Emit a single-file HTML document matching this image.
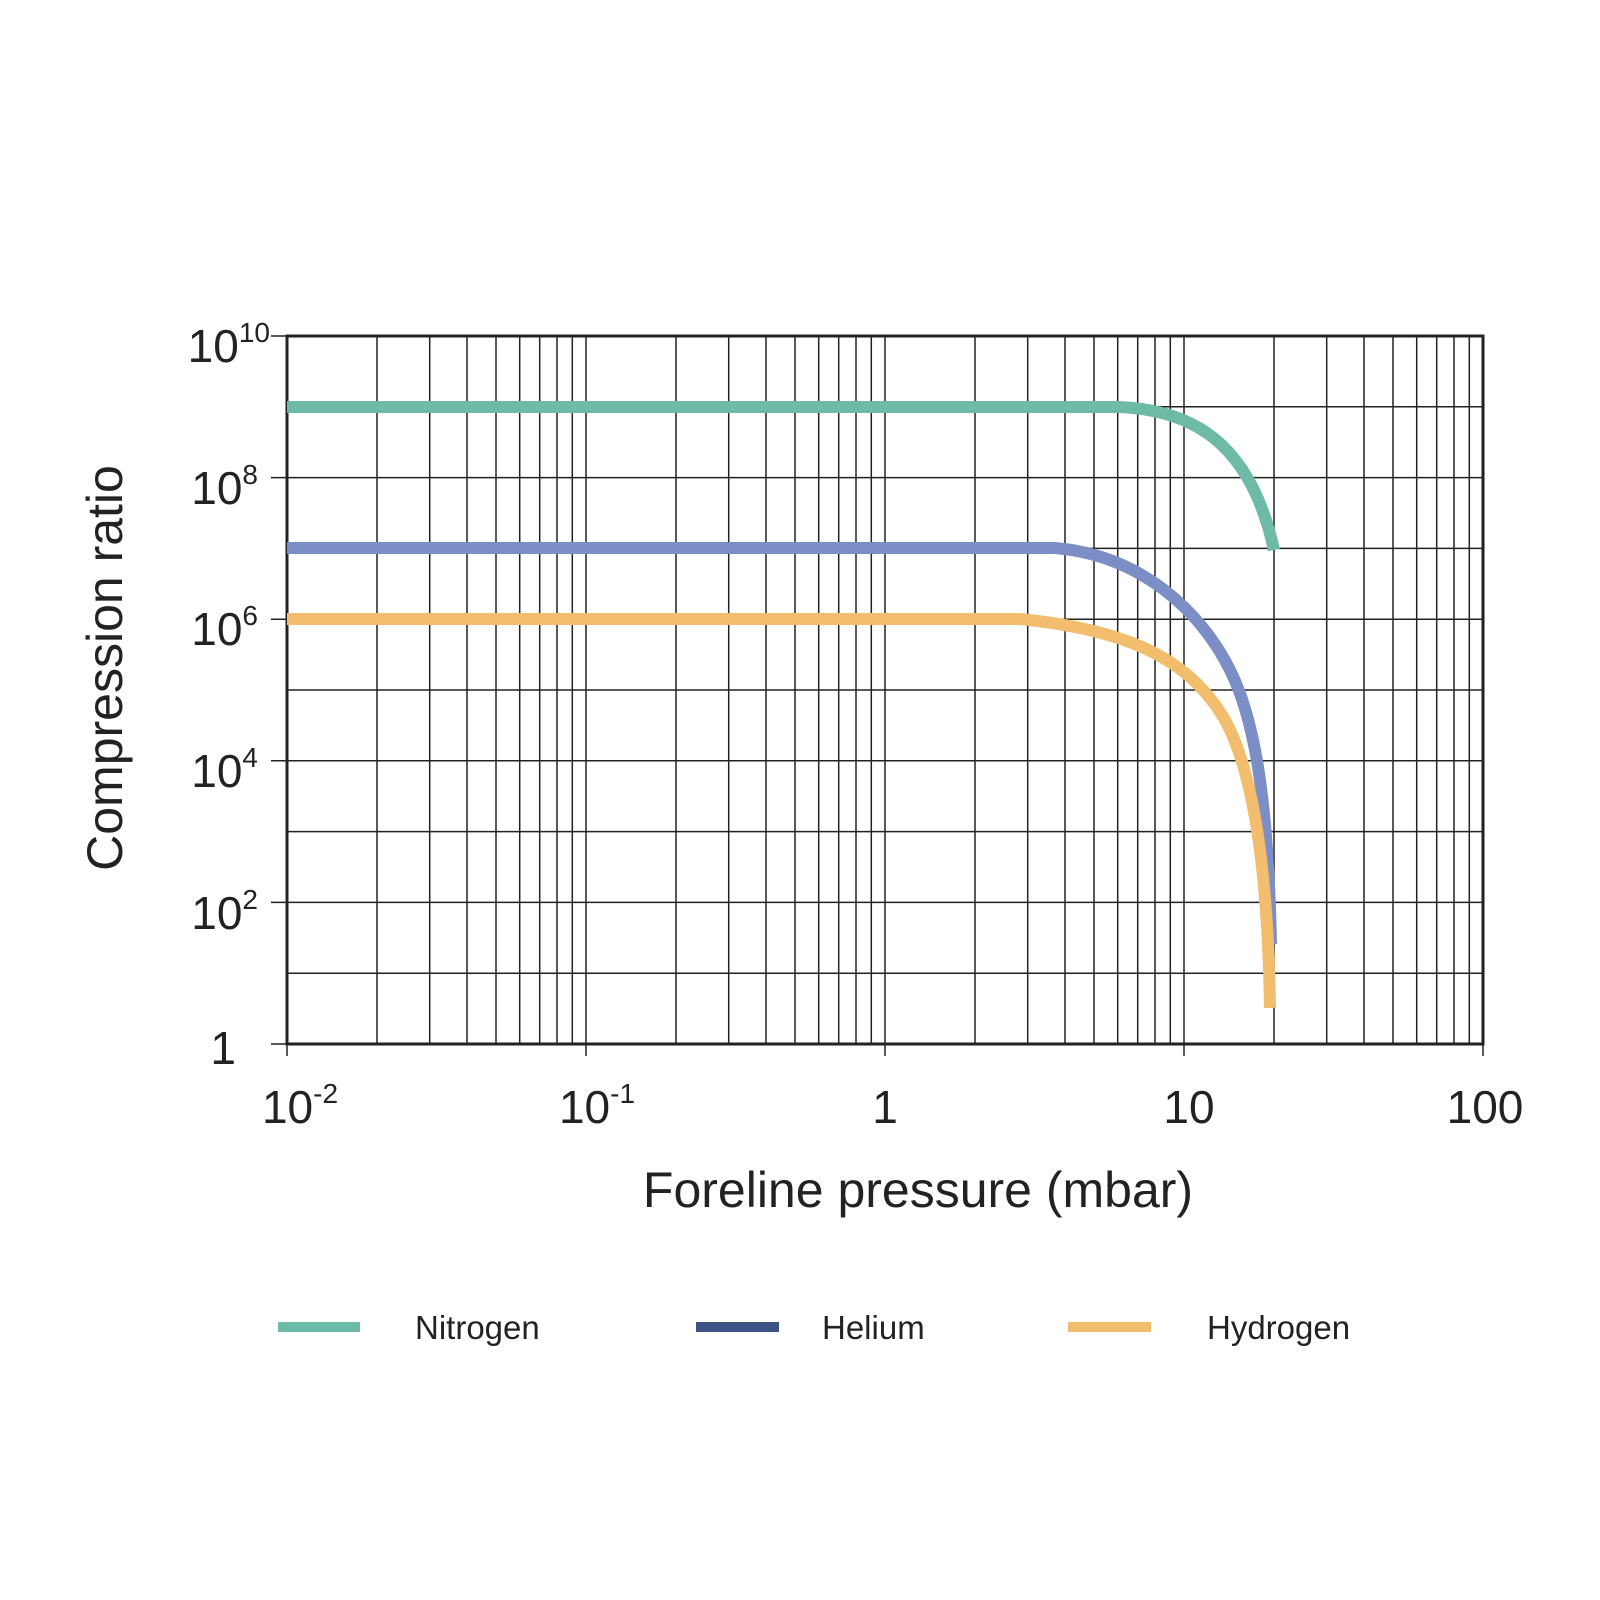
<!DOCTYPE html>
<html><head><meta charset="utf-8"><style>
html,body{margin:0;padding:0;background:#fff;}
svg{display:block;font-family:"Liberation Sans",sans-serif;}
</style></head><body>
<svg width="1600" height="1600" viewBox="0 0 1600 1600" xmlns="http://www.w3.org/2000/svg">
<rect width="1600" height="1600" fill="#fff"/>
<g stroke="#222" stroke-width="1.5">
<line x1="287" y1="336" x2="287" y2="1056"/>
<line x1="377" y1="336" x2="377" y2="1044"/><line x1="429.7" y1="336" x2="429.7" y2="1044"/><line x1="467" y1="336" x2="467" y2="1044"/><line x1="496" y1="336" x2="496" y2="1044"/><line x1="519.7" y1="336" x2="519.7" y2="1044"/><line x1="539.7" y1="336" x2="539.7" y2="1044"/><line x1="557" y1="336" x2="557" y2="1044"/><line x1="572.3" y1="336" x2="572.3" y2="1044"/>
<line x1="586" y1="336" x2="586" y2="1056"/>
<line x1="676" y1="336" x2="676" y2="1044"/><line x1="728.7" y1="336" x2="728.7" y2="1044"/><line x1="766" y1="336" x2="766" y2="1044"/><line x1="795" y1="336" x2="795" y2="1044"/><line x1="818.7" y1="336" x2="818.7" y2="1044"/><line x1="838.7" y1="336" x2="838.7" y2="1044"/><line x1="856" y1="336" x2="856" y2="1044"/><line x1="871.3" y1="336" x2="871.3" y2="1044"/>
<line x1="885" y1="336" x2="885" y2="1056"/>
<line x1="975" y1="336" x2="975" y2="1044"/><line x1="1027.7" y1="336" x2="1027.7" y2="1044"/><line x1="1065" y1="336" x2="1065" y2="1044"/><line x1="1094" y1="336" x2="1094" y2="1044"/><line x1="1117.7" y1="336" x2="1117.7" y2="1044"/><line x1="1137.7" y1="336" x2="1137.7" y2="1044"/><line x1="1155" y1="336" x2="1155" y2="1044"/><line x1="1170.3" y1="336" x2="1170.3" y2="1044"/>
<line x1="1184" y1="336" x2="1184" y2="1056"/>
<line x1="1274" y1="336" x2="1274" y2="1044"/><line x1="1326.7" y1="336" x2="1326.7" y2="1044"/><line x1="1364" y1="336" x2="1364" y2="1044"/><line x1="1393" y1="336" x2="1393" y2="1044"/><line x1="1416.7" y1="336" x2="1416.7" y2="1044"/><line x1="1436.7" y1="336" x2="1436.7" y2="1044"/><line x1="1454" y1="336" x2="1454" y2="1044"/><line x1="1469.3" y1="336" x2="1469.3" y2="1044"/>
<line x1="1483" y1="336" x2="1483" y2="1056"/>
<line x1="271" y1="1044" x2="1483" y2="1044"/>
<line x1="287" y1="973.2" x2="1483" y2="973.2"/>
<line x1="271" y1="902.4" x2="1483" y2="902.4"/>
<line x1="287" y1="831.6" x2="1483" y2="831.6"/>
<line x1="271" y1="760.8" x2="1483" y2="760.8"/>
<line x1="287" y1="690" x2="1483" y2="690"/>
<line x1="271" y1="619.2" x2="1483" y2="619.2"/>
<line x1="287" y1="548.4" x2="1483" y2="548.4"/>
<line x1="271" y1="477.6" x2="1483" y2="477.6"/>
<line x1="287" y1="406.8" x2="1483" y2="406.8"/>
<line x1="271" y1="336" x2="1483" y2="336"/>
</g>
<rect x="287" y="336" width="1196" height="708" fill="none" stroke="#222" stroke-width="3"/>
<g fill="none" stroke-width="12" stroke-linejoin="round">
<path stroke="#6dbba6" d="M287,407 L1120,407 C1190,410 1250,440 1274,550"/>
<path stroke="#7b8fc6" d="M287,548 L1055,548 C1140,555 1200,610 1230,670 C1255,720 1268,800 1271,944"/>
<path stroke="#f2bd6c" d="M287,619 L1020,619 C1130,630 1190,660 1225,720 C1255,775 1268,880 1270,1008"/>
</g>
<g font-size="46" fill="#222" text-anchor="end">
<text x="270" y="362">10<tspan font-size="28" dy="-20">10</tspan></text>
<text x="258" y="504">10<tspan font-size="28" dy="-20">8</tspan></text>
<text x="258" y="645">10<tspan font-size="28" dy="-20">6</tspan></text>
<text x="258" y="787">10<tspan font-size="28" dy="-20">4</tspan></text>
<text x="258" y="929">10<tspan font-size="28" dy="-20">2</tspan></text>
<text x="236" y="1064">1</text>
</g>
<g font-size="46" fill="#222" text-anchor="middle">
<text x="300" y="1123">10<tspan font-size="28" dy="-20">-2</tspan></text>
<text x="597" y="1123">10<tspan font-size="28" dy="-20">-1</tspan></text>
<text x="885" y="1123">1</text>
<text x="1189" y="1123">10</text>
<text x="1485" y="1123">100</text>
<text x="918" y="1207" font-size="50">Foreline pressure (mbar)</text>
<text transform="translate(122,668) rotate(-90)" font-size="50">Compression ratio</text>
</g>
<g stroke-width="10">
<line x1="278" y1="1327" x2="360" y2="1327" stroke="#6dbba6"/>
<line x1="696" y1="1327" x2="779" y2="1327" stroke="#3d5285"/>
<line x1="1068" y1="1327" x2="1151" y2="1327" stroke="#f2bd6c"/>
</g>
<g font-size="33" fill="#222">
<text x="415" y="1339">Nitrogen</text>
<text x="822" y="1339">Helium</text>
<text x="1207" y="1339">Hydrogen</text>
</g>
</svg>
</body></html>
